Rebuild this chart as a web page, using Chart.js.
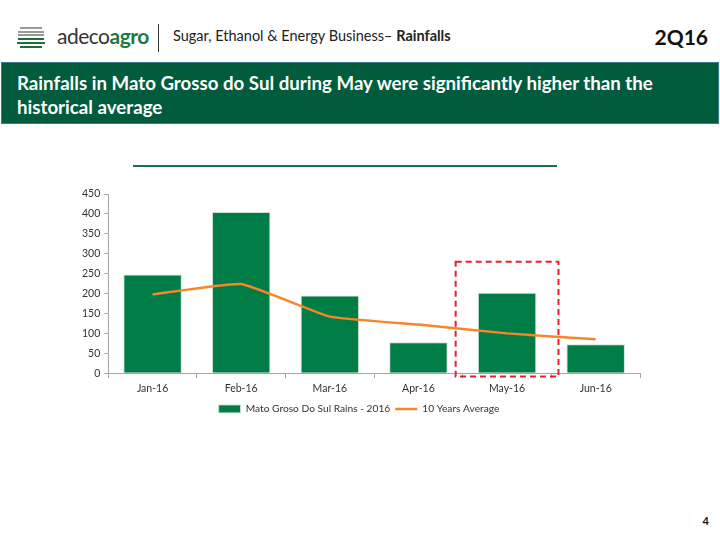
<!DOCTYPE html>
<html>
<head>
<meta charset="utf-8">
<script src="https://cdn.jsdelivr.net/npm/chart.js@4.4.0/dist/chart.umd.min.js"></script>
<style>
  body { margin: 0; width: 720px; height: 540px; background: #fff; position: relative; overflow: hidden; font-family: Lato, "Open Sans", sans-serif; }
  #logo { position: absolute; left: 14px; top: 20px; }
  #brand { position: absolute; left: 57px; top: 23px; font-size: 21px; color: #333; letter-spacing: -0.5px; }
  #brand b { color: #1e7a3c; }
  #sep { position: absolute; left: 158px; top: 24px; width: 1px; height: 28px; background: #333; }
  #sub { position: absolute; left: 173px; top: 27px; font-size: 14.5px; color: #222; }
  #q { position: absolute; right: 12px; top: 24px; font-size: 21px; font-weight: bold; color: #111; }
  #banner { position: absolute; left: 1px; top: 62px; width: 718px; height: 62px; background: #005c3c; border: 1px solid #3a7a8a; box-sizing: border-box; }
  #banner div { position: absolute; left: 15px; top: 8px; color: #fff; font-weight: bold; font-size: 18.7px; line-height: 24px; }
  #rule { position: absolute; left: 133px; top: 165px; width: 424px; height: 2px; background: #1e6e4a; }
  #page { position: absolute; right: 11px; top: 514px; font-size: 11px; font-weight: bold; color: #111; }
  #wrap { position: absolute; left: 60px; top: 180px; width: 600px; height: 244px; }
</style>
</head>
<body>
<svg id="logo" width="34" height="32" viewBox="0 0 34 32">
  <circle cx="17" cy="16" r="15" fill="#fff"/>
  <g stroke="#1e6e3c" stroke-width="2">
    <line x1="4" y1="19" x2="30" y2="19"/>
    <line x1="3" y1="23" x2="31" y2="23"/>
    <line x1="6" y1="27" x2="28" y2="27"/>
  </g>
  <g stroke="#555" stroke-width="1.2">
    <line x1="6" y1="8" x2="28" y2="8"/>
    <line x1="4" y1="12" x2="30" y2="12"/>
    <line x1="4" y1="15" x2="30" y2="15"/>
  </g>
</svg>
<div id="brand">adeco<b>agro</b></div>
<div id="sep"></div>
<div id="sub">Sugar, Ethanol &amp; Energy Business– <b>Rainfalls</b></div>
<div id="q">2Q16</div>
<div id="banner"><div>Rainfalls in Mato Grosso do Sul during May were significantly higher than the<br>historical average</div></div>
<div id="rule"></div>
<div id="wrap"><canvas id="rainChart"></canvas></div>
<div id="page">4</div>
<script>
var months = ["Jan-16", "Feb-16", "Mar-16", "Apr-16", "May-16", "Jun-16"];
var rains2016 = [248, 405, 195, 78, 202, 73];
var tenYearAvg = [198, 224, 142, 122, 100, 85];
var yTicks = [0, 50, 100, 150, 200, 250, 300, 350, 400, 450];

// dashed red box around May
var highlight = {
  id: 'highlight',
  afterDatasetsDraw: function (chart) {
    var x = chart.scales.x, y = chart.scales.y;
    var cx = x.getPixelForValue(4);
    var half = (x.getPixelForValue(1) - x.getPixelForValue(0)) * 0.58;
    var top = y.getPixelForValue(280), bottom = y.getPixelForValue(-8);
    var c = chart.ctx;
    c.save();
    c.strokeStyle = '#e8202a';
    c.lineWidth = 2;
    c.setLineDash([6, 4]);
    c.strokeRect(cx - half, top, half * 2, bottom - top);
    c.restore();
  }
};

var ctx = document.getElementById('rainChart').getContext('2d');
var chart = new Chart(ctx, {
  data: {
    labels: months,
    datasets: [{
      type: 'line',
      label: '10 Years Average',
      data: tenYearAvg,
      borderColor: '#f7862a',
      backgroundColor: '#f7862a',
      borderWidth: 2.5,
      pointRadius: 0,
      tension: 0.12,
      pointStyle: 'line',
      order: 0
    }, {
      type: 'bar',
      label: 'Mato Groso Do Sul Rains - 2016',
      data: rains2016,
      backgroundColor: '#007d46',
      borderColor: '#cfe3d6',
      borderWidth: 1,
      categoryPercentage: 1,
      barPercentage: 0.66,
      pointStyle: 'rect',
      order: 1
    }]
  },
  options: {
    responsive: true,
    maintainAspectRatio: false,
    animation: false,
    layout: { padding: { left: 18, right: 20, top: 14, bottom: 0 } },
    scales: {
      x: {
        grid: { display: true, drawOnChartArea: false, drawTicks: true, tickLength: 5, color: '#a6a6a6' },
        border: { color: '#a6a6a6' },
        ticks: { color: '#333', font: { family: 'Lato', size: 10.5 }, padding: 4 }
      },
      y: {
        min: 0,
        max: 450,
        afterBuildTicks: function (axis) { axis.ticks = yTicks.map(function (v) { return { value: v }; }); },
        grid: { display: true, drawOnChartArea: false, drawTicks: true, tickLength: 4, color: '#a6a6a6' },
        border: { color: '#a6a6a6' },
        ticks: { color: '#333', font: { family: 'Lato', size: 10.5 }, padding: 4 }
      }
    },
    plugins: {
      legend: {
        position: 'bottom',
        reverse: true,
        labels: {
          usePointStyle: true,
          pointStyleWidth: 22,
          boxHeight: 8,
          padding: 5,
          color: '#333',
          font: { family: 'Lato', size: 10.2 }
        }
      },
      tooltip: { enabled: false }
    }
  },
  plugins: [highlight]
});
</script>
</body>
</html>
